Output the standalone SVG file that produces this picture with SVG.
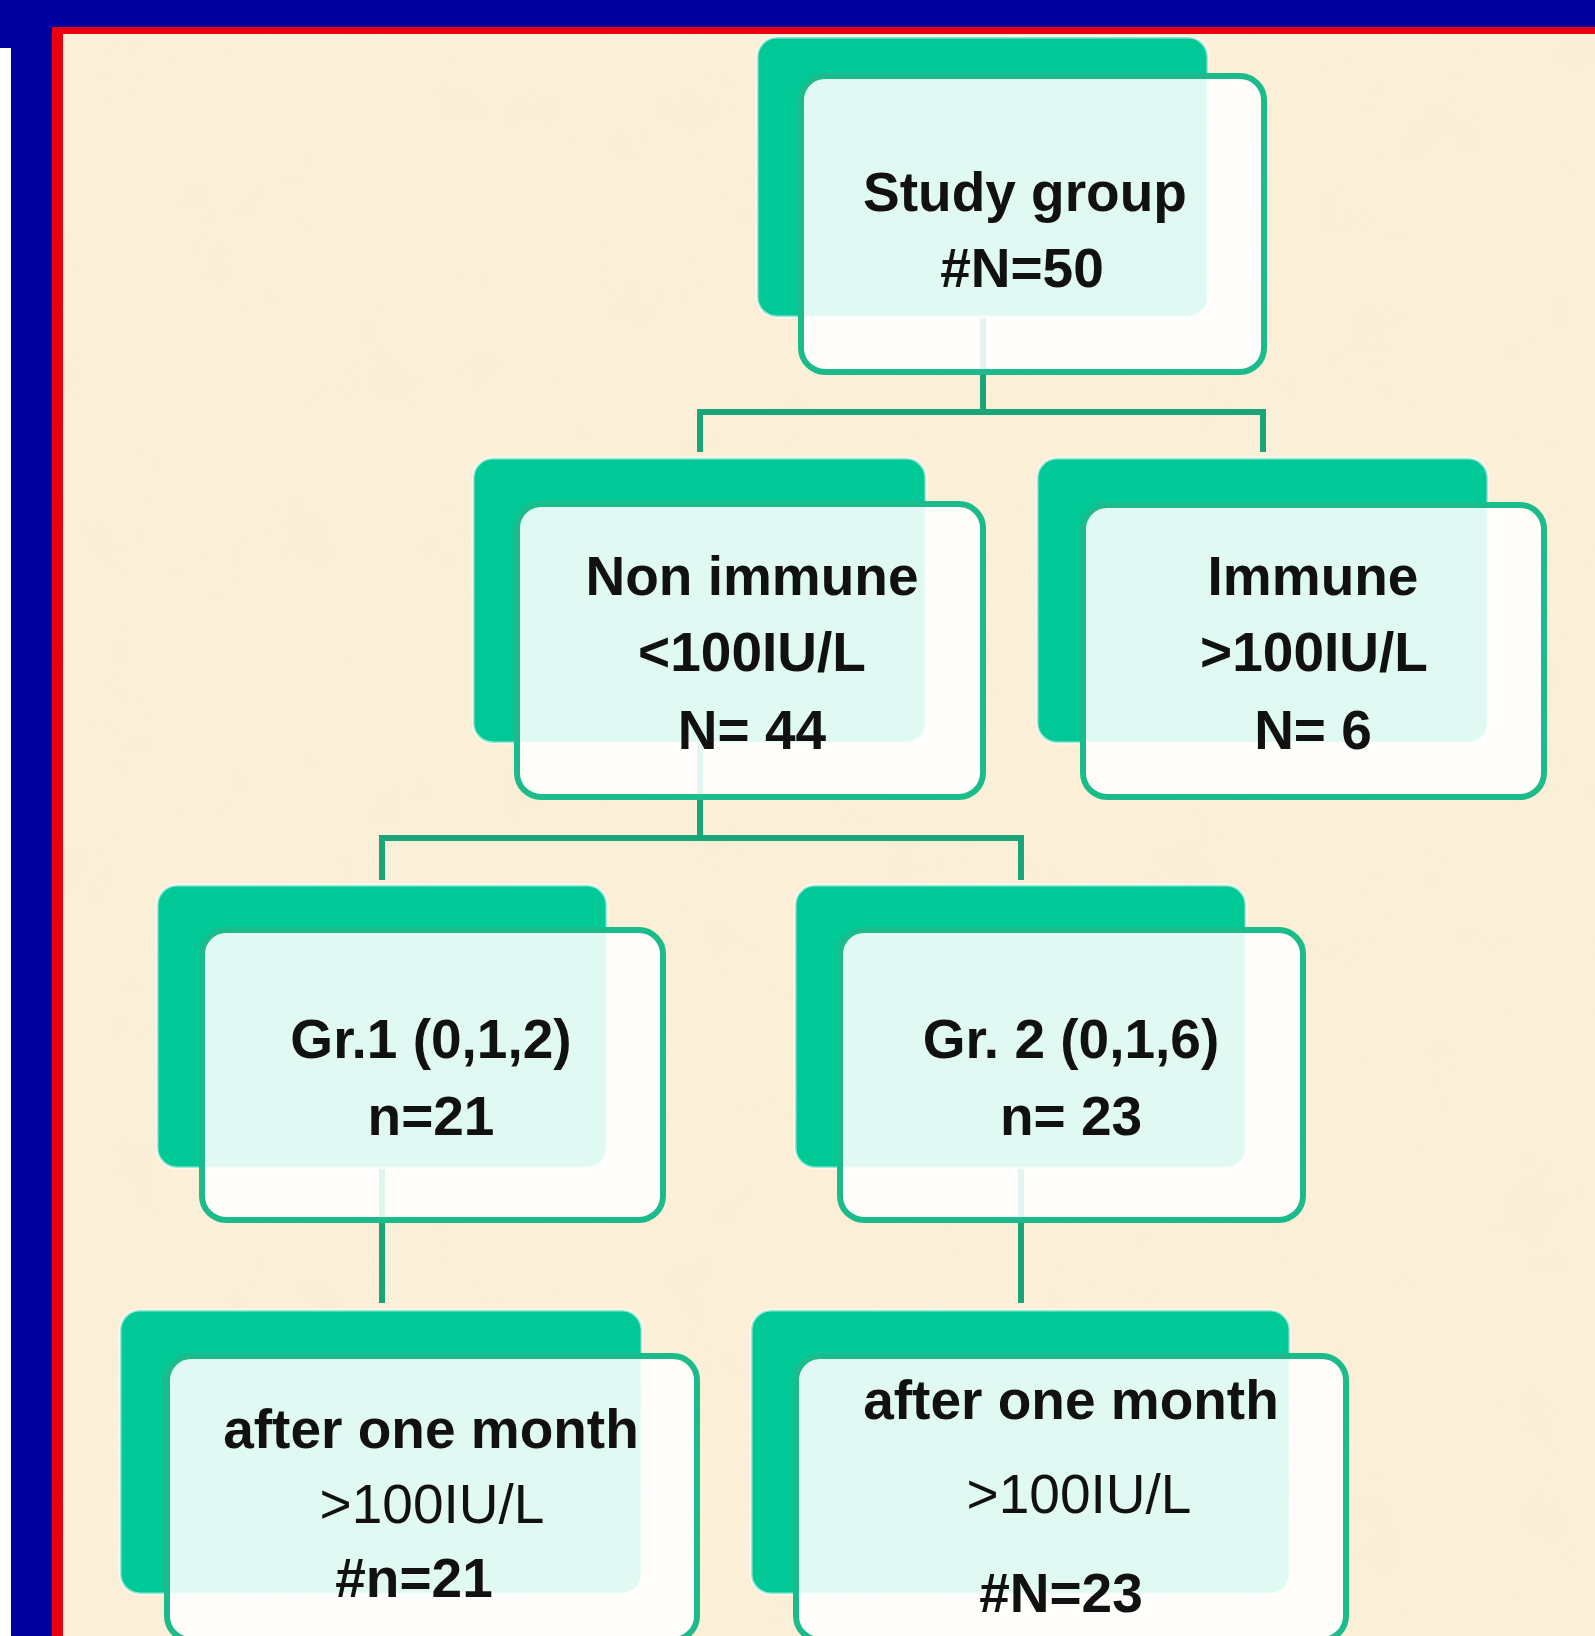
<svg xmlns="http://www.w3.org/2000/svg" width="1595" height="1636" viewBox="0 0 1595 1636">
<defs>
<filter id="tex" x="0" y="0" width="100%" height="100%">
<feTurbulence type="fractalNoise" baseFrequency="0.012" numOctaves="3" seed="7"/>
<feColorMatrix type="matrix" values="0 0 0 0 0.90  0 0 0 0 0.80  0 0 0 0 0.60  0 0 0 0.9 -0.25"/>
</filter>
</defs>
<style>
.bg{fill:#fdf0d9}
.back{fill:#00c896;stroke:#ffffff;stroke-width:3;stroke-opacity:0.6}
.front{fill:#ffffff;fill-opacity:0.88;stroke:#1cbb8b;stroke-width:6}
.conn{stroke:#17a579;stroke-width:6;fill:none}
.t{font-family:"Liberation Sans",Arial,sans-serif;font-size:55px;font-weight:bold;fill:#111;text-anchor:middle}
.r{font-weight:normal}
</style>
<rect x="0" y="0" width="1595" height="1636" fill="#0000a0"/>
<rect x="0" y="48" width="11" height="1588" fill="#ffffff"/>
<rect x="52" y="27" width="1543" height="1609" fill="#e8000f"/>
<rect class="bg" x="63" y="34" width="1532" height="1602"/>
<rect x="63" y="34" width="1532" height="1602" filter="url(#tex)" opacity="0.45"/>

<g id="connectors">
<path class="conn" d="M983 317V412M700 412H1263M700 409V452M1263 409V452"/>
<path class="conn" d="M700 743V838M382 838H1021M382 835V880M1021 835V880"/>
<path class="conn" d="M382 1168V1303M1021 1168V1303"/>
</g>

<g id="node-study">
<rect class="back" x="757" y="37" width="451" height="280" rx="20"/>
<rect class="front" x="801" y="76" width="463" height="296" rx="24"/>
<text class="t" x="1025" y="211">Study group</text>
<text class="t" x="1022" y="287">#N=50</text>
</g>

<g id="node-nonimmune">
<rect class="back" x="473" y="458" width="453" height="285" rx="20"/>
<rect class="front" x="517" y="504" width="466" height="293" rx="24"/>
<text class="t" x="752" y="595">Non immune</text>
<text class="t" x="752" y="671">&lt;100IU/L</text>
<text class="t" x="752" y="749">N= 44</text>
</g>

<g id="node-immune">
<rect class="back" x="1037" y="458" width="451" height="285" rx="20"/>
<rect class="front" x="1083" y="505" width="461" height="292" rx="24"/>
<text class="t" x="1313" y="595">Immune</text>
<text class="t" x="1314" y="671">&gt;100IU/L</text>
<text class="t" x="1313" y="749">N= 6</text>
</g>

<g id="node-gr1">
<rect class="back" x="157" y="885" width="450" height="283" rx="20"/>
<rect class="front" x="202" y="930" width="461" height="290" rx="24"/>
<text class="t" x="431" y="1058">Gr.1 (0,1,2)</text>
<text class="t" x="431" y="1135">n=21</text>
</g>

<g id="node-gr2">
<rect class="back" x="795" y="885" width="451" height="283" rx="20"/>
<rect class="front" x="840" y="930" width="463" height="290" rx="24"/>
<text class="t" x="1071" y="1058">Gr. 2 (0,1,6)</text>
<text class="t" x="1071" y="1135">n= 23</text>
</g>

<g id="node-after1">
<rect class="back" x="120" y="1310" width="522" height="284" rx="20"/>
<rect class="front" x="167" y="1356" width="530" height="284" rx="24"/>
<text class="t" x="431" y="1448">after one month</text>
<text class="t r" x="432" y="1523">&gt;100IU/L</text>
<text class="t" x="414" y="1597">#n=21</text>
</g>

<g id="node-after2">
<rect class="back" x="751" y="1310" width="539" height="284" rx="20"/>
<rect class="front" x="796" y="1356" width="550" height="284" rx="24"/>
<text class="t" x="1071" y="1419">after one month</text>
<text class="t r" x="1079" y="1513">&gt;100IU/L</text>
<text class="t" x="1061" y="1612">#N=23</text>
</g>
</svg>
